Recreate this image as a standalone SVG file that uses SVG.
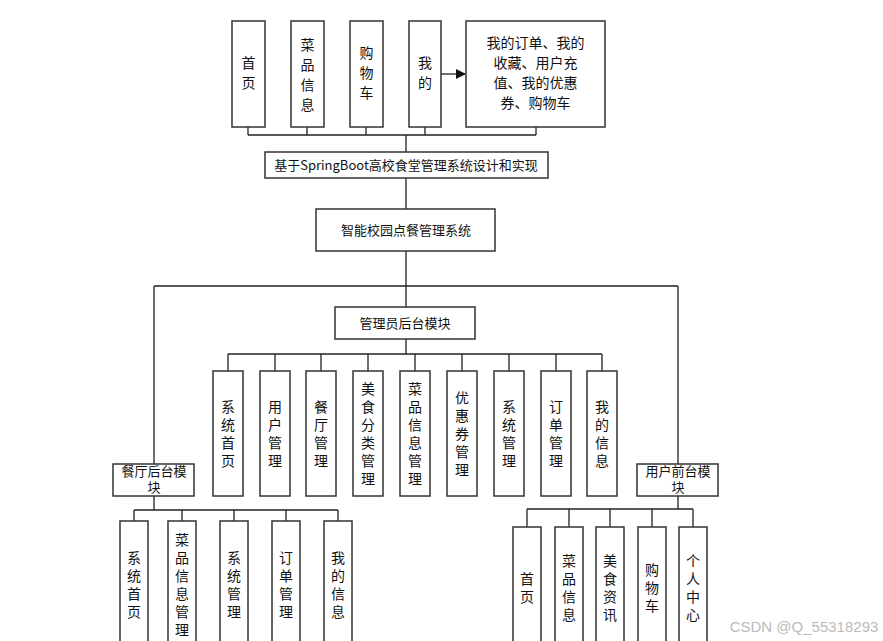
<svg xmlns="http://www.w3.org/2000/svg" width="883" height="641" viewBox="0 0 883 641">
<style>
rect{fill:#fff;stroke:#333;stroke-width:1.5}
text{font-family:"Noto Sans CJK SC","Liberation Sans",sans-serif;font-size:14px;fill:#111;text-anchor:middle}
.c path{fill:none;stroke:#222;stroke-width:1.3}
</style>
<defs><marker id="a" markerWidth="10" markerHeight="10" refX="9" refY="5" orient="auto" markerUnits="userSpaceOnUse"><path d="M0,0L10,5L0,10z" fill="#111"/></marker></defs>
<rect width="883" height="641" style="fill:#fff;stroke:none"/>
<g class="c">
<path d="M248,127V135M307,127V135M366,127V135M425,127V135M536,127V135M248,135H536M406,135V152"/>
<path d="M441,74H465" marker-end="url(#a)"/>
<path d="M406,178V209M406,251V307M154,286H678M154,286V464M678,286V464"/>
<path d="M406,339V354M228,354H602M228,354V371M275,354V371M321,354V371M368,354V371M415,354V371M462,354V371M509,354V371M556,354V371M602,354V371"/>
<path d="M154,496V510M134,510H338M134,510V521M182,510V521M234,510V521M286,510V521M338,510V521"/>
<path d="M678,496V509M527,509H693M527,509V527M569,509V527M610,509V527M652,509V527M693,509V527"/>
</g>
<g id="t1"><rect x="232" y="21" width="33" height="106"/><text x="248.5" y="68">首</text><text x="248.5" y="88">页</text></g>
<g id="t2"><rect x="291" y="21" width="33" height="106"/><text x="307.5" y="50">菜</text><text x="307.5" y="70">品</text><text x="307.5" y="90">信</text><text x="307.5" y="110">息</text></g>
<g id="t3"><rect x="350" y="21" width="33" height="106"/><text x="366.5" y="58">购</text><text x="366.5" y="78">物</text><text x="366.5" y="98">车</text></g>
<g id="t4"><rect x="409" y="21" width="32" height="106"/><text x="425" y="68">我</text><text x="425" y="88">的</text></g>
<g id="t5"><rect x="466" y="21" width="139" height="106"/><text x="535.5" y="48">我的订单、我的</text><text x="535.5" y="68">收藏、用户充</text><text x="535.5" y="88">值、我的优惠</text><text x="535.5" y="108">券、购物车</text></g>
<g id="root"><rect x="265" y="152" width="283" height="26"/><text x="406" y="170" style="font-size:13px">基于SpringBoot高校食堂管理系统设计和实现</text></g>
<g id="sys"><rect x="316" y="209" width="179" height="42"/><text x="406" y="235" style="font-size:13px">智能校园点餐管理系统</text></g>
<g id="admin"><rect x="335" y="307" width="140" height="32"/><text x="405" y="328" style="font-size:13px">管理员后台模块</text></g>
<g id="a1"><rect x="213" y="371" width="30" height="125"/><text x="228" y="412">系</text><text x="228" y="430">统</text><text x="228" y="448">首</text><text x="228" y="466">页</text></g>
<g id="a2"><rect x="260" y="371" width="30" height="125"/><text x="275" y="412">用</text><text x="275" y="430">户</text><text x="275" y="448">管</text><text x="275" y="466">理</text></g>
<g id="a3"><rect x="306" y="371" width="30" height="125"/><text x="321" y="412">餐</text><text x="321" y="430">厅</text><text x="321" y="448">管</text><text x="321" y="466">理</text></g>
<g id="a4"><rect x="353" y="371" width="30" height="125"/><text x="368" y="394">美</text><text x="368" y="412">食</text><text x="368" y="430">分</text><text x="368" y="448">类</text><text x="368" y="466">管</text><text x="368" y="484">理</text></g>
<g id="a5"><rect x="400" y="371" width="30" height="125"/><text x="415" y="394">菜</text><text x="415" y="412">品</text><text x="415" y="430">信</text><text x="415" y="448">息</text><text x="415" y="466">管</text><text x="415" y="484">理</text></g>
<g id="a6"><rect x="447" y="371" width="30" height="125"/><text x="462" y="403">优</text><text x="462" y="421">惠</text><text x="462" y="439">券</text><text x="462" y="457">管</text><text x="462" y="475">理</text></g>
<g id="a7"><rect x="494" y="371" width="30" height="125"/><text x="509" y="412">系</text><text x="509" y="430">统</text><text x="509" y="448">管</text><text x="509" y="466">理</text></g>
<g id="a8"><rect x="541" y="371" width="30" height="125"/><text x="556" y="412">订</text><text x="556" y="430">单</text><text x="556" y="448">管</text><text x="556" y="466">理</text></g>
<g id="a9"><rect x="587" y="371" width="30" height="125"/><text x="602" y="412">我</text><text x="602" y="430">的</text><text x="602" y="448">信</text><text x="602" y="466">息</text></g>
<g id="rest"><rect x="113" y="464" width="81" height="32"/><text x="154" y="476" style="font-size:13px">餐厅后台模</text><text x="154" y="492" style="font-size:13px">块</text></g>
<g id="user"><rect x="637" y="464" width="81" height="32"/><text x="678" y="476" style="font-size:13px">用户前台模</text><text x="678" y="492" style="font-size:13px">块</text></g>
<g id="r1"><rect x="120" y="521" width="28" height="130"/><text x="134" y="563">系</text><text x="134" y="581">统</text><text x="134" y="599">首</text><text x="134" y="617">页</text></g>
<g id="r2"><rect x="168" y="521" width="28" height="130"/><text x="182" y="545">菜</text><text x="182" y="563">品</text><text x="182" y="581">信</text><text x="182" y="599">息</text><text x="182" y="617">管</text><text x="182" y="635">理</text></g>
<g id="r3"><rect x="220" y="521" width="28" height="130"/><text x="234" y="563">系</text><text x="234" y="581">统</text><text x="234" y="599">管</text><text x="234" y="617">理</text></g>
<g id="r4"><rect x="272" y="521" width="28" height="130"/><text x="286" y="563">订</text><text x="286" y="581">单</text><text x="286" y="599">管</text><text x="286" y="617">理</text></g>
<g id="r5"><rect x="324" y="521" width="28" height="130"/><text x="338" y="563">我</text><text x="338" y="581">的</text><text x="338" y="599">信</text><text x="338" y="617">息</text></g>
<g id="u1"><rect x="513" y="527" width="28" height="124"/><text x="527" y="584">首</text><text x="527" y="602">页</text></g>
<g id="u2"><rect x="555" y="527" width="28" height="124"/><text x="569" y="566">菜</text><text x="569" y="584">品</text><text x="569" y="602">信</text><text x="569" y="620">息</text></g>
<g id="u3"><rect x="596" y="527" width="28" height="124"/><text x="610" y="566">美</text><text x="610" y="584">食</text><text x="610" y="602">资</text><text x="610" y="620">讯</text></g>
<g id="u4"><rect x="638" y="527" width="28" height="124"/><text x="652" y="575">购</text><text x="652" y="593">物</text><text x="652" y="611">车</text></g>
<g id="u5"><rect x="679" y="527" width="28" height="124"/><text x="693" y="566">个</text><text x="693" y="584">人</text><text x="693" y="602">中</text><text x="693" y="620">心</text></g>
<text x="804" y="632" style="fill:#bbb;font-size:15px;font-family:'Liberation Sans',sans-serif">CSDN @Q_55318293</text>
</svg>
